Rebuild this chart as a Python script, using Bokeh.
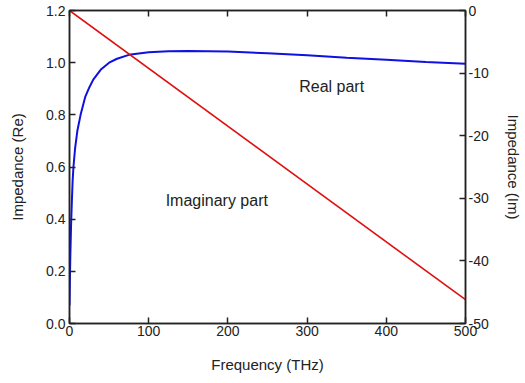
from bokeh.plotting import figure
from bokeh.models import Range1d, LinearAxis, FixedTicker, Label, NumeralTickFormatter
from bokeh.embed import file_html
from bokeh.resources import INLINE

freq_re = [0, 0.5, 1, 2, 3, 4, 5, 7, 10, 14, 20, 25, 30, 40, 50, 60, 75, 100, 125, 150, 200, 250, 300, 350, 400, 450, 500]
imp_re = [0.07, 0.17, 0.25, 0.38, 0.47, 0.55, 0.60, 0.67, 0.74, 0.80, 0.87, 0.905, 0.935, 0.975, 1.0, 1.015, 1.03, 1.04,
          1.044, 1.045, 1.043, 1.036, 1.028, 1.019, 1.011, 1.003, 0.996]
freq_im = [0, 500]
imp_im = [0, -46.2]

x_ticks = [0, 100, 200, 300, 400, 500]
re_ticks = [0.0, 0.2, 0.4, 0.6, 0.8, 1.0, 1.2]
im_ticks = [-50, -40, -30, -20, -10, 0]

FONT = "Liberation Sans"

p = figure(width=525, height=383, output_backend="svg", toolbar_location=None,
           x_range=Range1d(0, 500), y_range=Range1d(0, 1.2),
           min_border_left=69, min_border_right=60, min_border_top=10, min_border_bottom=60)
p.extra_y_ranges = {"im": Range1d(-50, 0)}
p.xgrid.visible = False
p.ygrid.visible = False
p.outline_line_color = "#222222"
p.outline_line_width = 1.5

p.line(freq_re, imp_re, line_color="#1010e0", line_width=2)
p.line(freq_im, imp_im, line_color="#e01010", line_width=1.6, y_range_name="im")


def style(ax):
    ax.major_tick_in = 6
    ax.major_tick_out = 0
    ax.minor_tick_line_color = None
    ax.axis_line_color = "#222222"
    ax.axis_line_width = 1.5
    ax.major_tick_line_color = "#222222"
    ax.major_tick_line_width = 1.5
    ax.major_label_text_font = FONT
    ax.major_label_text_font_size = "14px"
    ax.major_label_text_color = "#222222"
    ax.axis_label_text_font = FONT
    ax.axis_label_text_font_size = "15px"
    ax.axis_label_text_font_style = "normal"
    ax.axis_label_text_color = "#222222"


xa = p.xaxis[0]
xa.ticker = FixedTicker(ticks=x_ticks)
xa.axis_label = "Frequency (THz)"
xa.major_label_standoff = 2
xa.axis_label_standoff = 17
style(xa)

ya = p.yaxis[0]
ya.ticker = FixedTicker(ticks=re_ticks)
ya.formatter = NumeralTickFormatter(format="0.0")
ya.axis_label = "Impedance (Re)"
ya.major_label_standoff = 4
ya.axis_label_standoff = 17
style(ya)

ra = LinearAxis(y_range_name="im", ticker=FixedTicker(ticks=im_ticks), axis_label="Impedance (Im)",
                formatter=NumeralTickFormatter(format="0"))
style(ra)
ra.major_label_standoff = 3
ra.axis_label_standoff = 13
p.add_layout(ra, "right")

ta = LinearAxis(ticker=FixedTicker(ticks=x_ticks))
style(ta)
ta.major_label_overrides = {t: "" for t in x_ticks}
ta.major_label_standoff = 0
p.add_layout(ta, "above")

p.add_layout(Label(x=331, y=0.909, text="Real part", text_align="center", text_baseline="middle",
                   text_font=FONT, text_font_size="16px", text_color="#222222"))
p.add_layout(Label(x=186, y=0.472, text="Imaginary part", text_align="center", text_baseline="middle",
                   text_font=FONT, text_font_size="16px", text_color="#222222"))

open("out.html", "w").write(file_html(p, INLINE))
